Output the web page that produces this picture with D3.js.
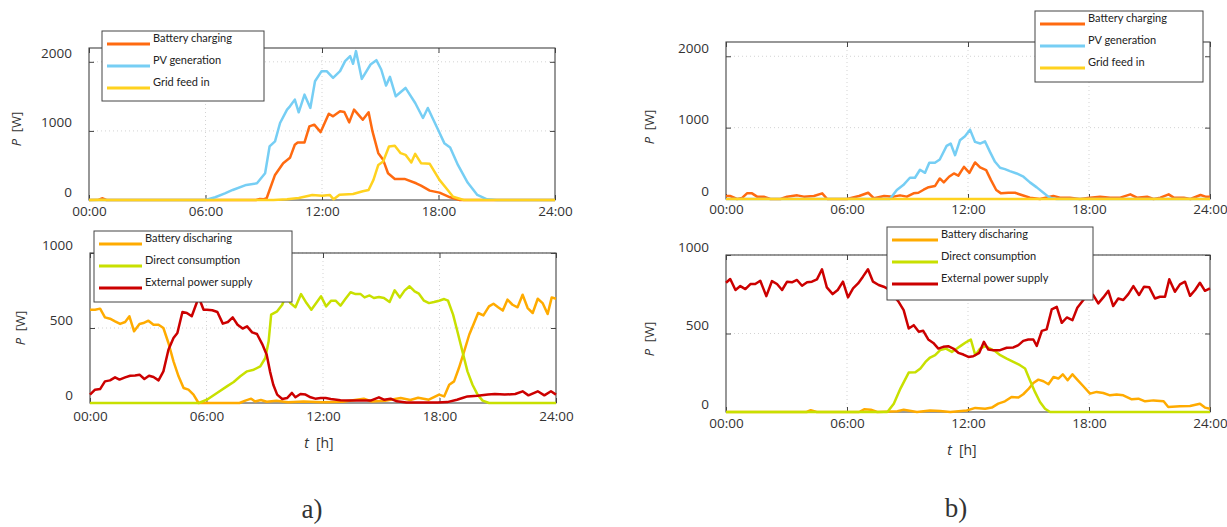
<!DOCTYPE html>
<html>
<head>
<style>
  body { margin: 0; background: #fff; }
  svg text { font-family: "Open Sans", sans-serif; fill: #333; }
  .tick text { font-size: 13.5px; }
  .legend text { font-family: Lato, sans-serif; font-size: 11px; fill: #222; }
  .caption { font-family: "Liberation Serif", serif; font-size: 27px; }
</style>
<script src="https://d3js.org/d3.v7.min.js"></script>
</head>
<body>
<svg width="1227" height="527"></svg>
<script>
// tick labels
var hourTicks = [0, 6, 12, 18, 24];
var hourLabels = ["00:00", "06:00", "12:00", "18:00", "24:00"];
var genTicks = [0, 1000, 2000];
var useTicks = [0, 500, 1000];
var genNames = ["Battery charging", "PV generation", "Grid feed in"];
var useNames = ["Battery discharing", "Direct consumption", "External power supply"];
var genColors = ["#ff6a10", "#76cef4", "#ffd21f"];
var useColors = ["#ffab00", "#c8e000", "#cc0000"];

// a) [hour, W]
var aCharge = [[0,0],[0.5,5],[0.7,25],[0.9,0],[8.6,0],[8.8,15],[9.0,12],[9.15,25],[9.3,145],[9.58,363],[10.0,533],[10.35,610],[10.6,800],[10.75,833],[11.1,833],[11.35,1065],[11.6,1090],[11.93,983],[12.35,1249],[12.57,1211],[12.93,1283],[13.15,1274],[13.4,1124],[13.65,1308],[13.95,1211],[14.1,1162],[14.4,1269],[14.6,993],[14.9,678],[15.15,581],[15.4,387],[15.75,305],[16.25,305],[16.85,242],[17.1,208],[17.55,136],[18.05,107],[18.6,39],[19.1,0],[24,0]];
var aPv = [[0,0],[6.0,0],[6.5,40],[7.0,95],[7.4,145],[8.1,218],[8.65,242],[9.07,387],[9.3,775],[9.58,848],[9.84,1114],[10.2,1308],[10.35,1356],[10.6,1453],[10.8,1269],[11.1,1525],[11.4,1332],[11.64,1719],[11.98,1865],[12.24,1865],[12.57,1768],[12.93,1865],[13.19,2010],[13.45,2083],[13.6,1971],[13.75,2155],[14.05,1753],[14.5,1961],[14.8,2024],[15.05,1889],[15.3,1656],[15.5,1782],[15.8,1501],[16.3,1622],[16.8,1404],[17.2,1187],[17.45,1332],[17.9,1065],[18.3,823],[18.6,760],[19.0,508],[19.5,252],[20.0,73],[20.5,10],[21,0],[24,0]];
var aFeed = [[0,0],[0.5,5],[1,0],[9.5,0],[10.2,10],[10.8,30],[11.5,73],[12.0,63],[12.4,73],[12.6,10],[12.9,77],[13.6,87],[14.1,126],[14.4,145],[14.65,291],[14.9,508],[15.15,557],[15.45,775],[15.75,785],[16.05,678],[16.3,654],[16.6,542],[16.8,668],[17.1,533],[17.55,523],[18.05,291],[18.4,170],[18.75,48],[19.3,0],[24,0]];
var aDischarge = [[0,622],[0.26,622],[0.52,629],[0.77,571],[1.03,562],[1.29,544],[1.55,527],[1.81,540],[2.03,578],[2.27,478],[2.55,527],[2.75,533],[3.01,549],[3.27,522],[3.53,522],[3.78,500],[4.04,400],[4.3,278],[4.56,178],[4.82,100],[5.07,89],[5.33,56],[5.59,0],[7.7,0],[8.0,16],[8.3,29],[8.5,10],[8.8,20],[9.1,8],[9.6,15],[10.2,5],[11,10],[12,5],[13,8],[14.1,29],[14.5,10],[15.2,15],[16.0,33],[16.5,20],[16.9,35],[17.45,22],[17.98,56],[18.24,44],[18.5,122],[18.75,144],[19.0,233],[19.27,344],[19.53,455],[19.78,533],[19.99,600],[20.26,584],[20.55,644],[20.78,662],[21.02,638],[21.26,616],[21.5,689],[21.76,655],[22.02,638],[22.28,722],[22.54,633],[22.8,600],[23.06,695],[23.31,666],[23.57,593],[23.78,704],[24,695]];
var aDirect = [[0,0],[5.6,0],[6.02,22],[6.54,67],[7.05,111],[7.4,140],[7.74,178],[8.09,211],[8.43,222],[8.77,244],[9.03,300],[9.2,411],[9.33,589],[9.64,611],[9.9,655],[10.1,722],[10.32,666],[10.58,638],[10.87,726],[11.15,666],[11.4,622],[11.9,711],[12.16,644],[12.42,682],[12.65,682],[12.9,649],[13.16,695],[13.42,738],[13.68,726],[13.94,726],[14.14,704],[14.4,717],[14.62,700],[14.88,707],[15.14,700],[15.43,673],[15.69,751],[15.96,704],[16.2,749],[16.46,778],[16.72,744],[16.94,729],[17.2,682],[17.46,666],[17.72,673],[17.98,682],[18.24,693],[18.44,682],[18.7,589],[18.92,478],[19.18,344],[19.44,211],[19.7,122],[19.96,56],[20.22,16],[20.55,0],[24,0]];
var aExternal = [[0,56],[0.26,89],[0.52,93],[0.77,144],[1.03,151],[1.29,171],[1.52,156],[1.81,171],[2.07,182],[2.32,184],[2.55,189],[2.8,160],[3.04,182],[3.27,173],[3.53,151],[3.78,211],[4.04,355],[4.3,433],[4.5,467],[4.76,607],[4.99,600],[5.24,578],[5.6,705],[5.85,622],[6.02,622],[6.3,618],[6.56,607],[6.84,529],[7.1,540],[7.35,571],[7.6,522],[7.86,496],[8.09,511],[8.35,471],[8.6,460],[8.87,393],[9.1,322],[9.27,211],[9.44,122],[9.64,56],[9.9,27],[10.15,33],[10.4,67],[10.58,38],[10.84,60],[11.1,56],[11.36,38],[11.6,29],[11.88,33],[12.14,33],[12.4,27],[12.9,18],[13.4,16],[14.45,16],[14.88,38],[15.14,22],[15.48,29],[15.8,11],[16.3,4],[17.2,4],[17.9,4],[18.4,6],[18.9,22],[19.18,33],[19.44,44],[19.96,49],[20.5,56],[20.85,60],[21.36,56],[21.9,60],[22.28,78],[22.58,51],[23.06,78],[23.4,51],[23.74,78],[24,56]];

// b) [hour, W]
var bCharge = [[0,42],[0.2,42],[0.55,0],[0.8,15],[1.04,79],[1.29,79],[1.54,33],[1.87,33],[2.2,0],[2.7,0],[3.03,33],[3.53,51],[3.86,33],[4.36,42],[4.77,79],[5.02,0],[6.0,0],[6.6,42],[7.05,88],[7.34,10],[7.84,42],[8.3,33],[8.63,51],[8.97,33],[9.3,79],[9.54,88],[9.8,130],[10.05,165],[10.36,181],[10.6,288],[10.8,233],[11.06,312],[11.3,358],[11.52,326],[11.8,451],[12.07,367],[12.35,512],[12.6,442],[12.9,405],[13.14,265],[13.4,126],[13.64,79],[14.0,88],[14.33,88],[14.66,56],[15.07,19],[15.57,0],[16.23,42],[16.56,19],[17.05,19],[17.55,0],[18.05,19],[18.55,33],[19.05,19],[19.55,19],[20.05,65],[20.38,19],[20.88,33],[21.2,0],[21.54,19],[21.95,65],[22.2,19],[22.7,19],[23.03,0],[23.53,56],[23.78,33],[24,33]];
var bPv = [[0,0],[8.13,0],[8.47,126],[8.79,195],[9.12,298],[9.37,298],[9.62,410],[9.87,367],[10.08,507],[10.36,507],[10.6,553],[10.94,744],[11.14,777],[11.36,614],[11.6,823],[11.85,879],[12.1,972],[12.35,800],[12.6,777],[12.84,809],[13.09,660],[13.34,521],[13.59,437],[13.83,419],[14.08,391],[14.41,358],[14.75,312],[15.07,233],[15.41,163],[15.74,88],[15.98,33],[16.15,10],[16.4,0],[24,0]];
var bFeed = [[0,0],[24,0]];
var bDischarge = [[0,0],[4.0,0],[4.2,11],[4.5,0],[6.6,0],[6.85,17],[7.18,15],[7.5,0],[8.5,5],[8.81,15],[9.47,0],[10.12,10],[10.62,6],[11.12,0],[11.94,10],[12.36,26],[12.85,21],[13.18,28],[13.5,53],[13.83,68],[14.16,96],[14.5,92],[14.74,113],[14.99,145],[15.24,185],[15.49,206],[15.74,196],[15.99,177],[16.24,223],[16.48,213],[16.7,240],[16.94,202],[17.18,240],[17.45,202],[17.72,164],[18.05,117],[18.38,128],[18.71,121],[19.04,106],[19.37,111],[19.7,106],[20.12,81],[20.45,85],[20.78,68],[21.2,74],[21.7,68],[21.93,32],[22.51,36],[23.01,38],[23.5,53],[23.75,28],[24,21]];
var bDirect = [[0,0],[8.0,0],[8.32,53],[8.65,149],[9.06,251],[9.39,253],[9.64,277],[9.89,319],[10.12,347],[10.37,362],[10.62,394],[10.91,404],[11.2,383],[11.45,404],[11.69,426],[11.94,447],[12.14,462],[12.36,362],[12.6,404],[12.85,419],[13.1,404],[13.35,387],[13.6,362],[13.92,340],[14.25,319],[14.58,298],[14.83,277],[15.07,202],[15.32,128],[15.57,64],[15.82,21],[16.07,0],[24,0]];
var bExternal = [[0,823],[0.21,847],[0.47,777],[0.71,802],[0.96,783],[1.21,815],[1.45,815],[1.7,836],[2.0,738],[2.28,834],[2.53,815],[2.78,777],[3.03,830],[3.27,826],[3.52,841],[3.77,804],[4.02,826],[4.26,830],[4.51,845],[4.76,909],[5.0,794],[5.29,751],[5.54,777],[5.8,830],[6.05,730],[6.3,787],[6.55,819],[6.79,862],[7.04,909],[7.29,830],[7.57,809],[7.82,798],[8.07,781],[8.32,738],[8.56,702],[8.81,649],[9.06,532],[9.31,553],[9.56,511],[9.78,517],[10.03,462],[10.28,440],[10.53,404],[10.77,415],[11.02,419],[11.27,404],[11.52,377],[11.77,366],[12.02,351],[12.26,355],[12.56,377],[12.79,447],[13.01,398],[13.26,394],[13.59,394],[13.92,409],[14.25,411],[14.5,426],[14.74,453],[14.99,462],[15.24,462],[15.41,421],[15.66,517],[15.9,526],[16.15,653],[16.4,670],[16.65,568],[16.9,602],[17.18,585],[17.42,664],[17.72,713],[17.97,755],[18.21,745],[18.46,692],[18.71,730],[18.96,772],[19.2,675],[19.45,723],[19.7,713],[19.95,751],[20.2,802],[20.48,745],[20.73,798],[20.99,794],[21.27,723],[21.52,734],[21.77,734],[21.98,845],[22.26,766],[22.51,813],[22.76,830],[23.01,740],[23.26,777],[23.5,823],[23.75,772],[24,787]];

var svg = d3.select("svg");

var panels = [
  {x0: 89, x1: 555, y0: 48, y1: 200, ymax: 2200, ticks: genTicks, xPad: 6,
   series: [aCharge, aPv, aFeed], names: genNames, colors: genColors,
   legend: {x: 102, y: 31, w: 162, h: 70, lw: 43}, ylab: [16, 129]},
  {x0: 90, x1: 556, y0: 253, y1: 403, ymax: 1000, ticks: useTicks, xPad: 8,
   series: [aDischarge, aDirect, aExternal], names: useNames, colors: useColors,
   legend: {x: 94, y: 231, w: 198, h: 71, lw: 43}, ylab: [20, 328], tlab: [319, 443]},
  {x0: 726, x1: 1210, y0: 42, y1: 199, ymax: 2200, ticks: genTicks, xPad: 5,
   series: [bCharge, bPv, bFeed], names: genNames, colors: genColors,
   legend: {x: 1035, y: 11, w: 168, h: 71, lw: 45}, ylab: [649, 127]},
  {x0: 726, x1: 1210, y0: 255, y1: 412, ymax: 1000, ticks: useTicks, xPad: 6,
   series: [bDischarge, bDirect, bExternal], names: useNames, colors: useColors,
   legend: {x: 887, y: 227, w: 206, h: 73, lw: 46}, ylab: [649, 339], tlab: [962, 450]}
];

panels.forEach(drawPanel);

function drawPanel(p) {
  var g = svg.append("g");
  var x = d3.scaleLinear().domain([0, 24]).range([p.x0, p.x1]);
  var y = d3.scaleLinear().domain([0, p.ymax]).range([p.y1, p.y0]);

  // dotted grid
  g.append("g").selectAll("line").data(hourTicks.slice(1, -1)).join("line")
    .attr("x1", d => x(d)).attr("x2", d => x(d)).attr("y1", p.y0).attr("y2", p.y1);
  g.append("g").selectAll("line").data(p.ticks.slice(1)).join("line")
    .attr("x1", p.x0).attr("x2", p.x1).attr("y1", d => y(d)).attr("y2", d => y(d));
  g.selectAll("line").attr("stroke", "#c8c8c8").attr("stroke-width", 0.8).attr("stroke-dasharray", "1,3");

  // axes, ticks pointing inwards
  var left = g.append("g").attr("transform", "translate(" + p.x0 + ",0)")
    .call(d3.axisLeft(y).tickValues(p.ticks).tickSize(-5).tickPadding(17).tickFormat(d3.format("d")));
  left.selectAll("text").attr("dy", -4);
  g.append("g").attr("transform", "translate(" + p.x1 + ",0)")
    .call(d3.axisRight(y).tickValues(p.ticks).tickSize(-5).tickFormat(""));
  g.append("g").attr("transform", "translate(0," + p.y1 + ")")
    .call(d3.axisBottom(x).tickValues(hourTicks).tickSize(-5).tickPadding(p.xPad)
      .tickFormat((d, i) => hourLabels[i]));
  g.append("g").attr("transform", "translate(0," + p.y0 + ")")
    .call(d3.axisTop(x).tickValues(hourTicks).tickSize(-5).tickFormat(""));
  g.selectAll(".domain").remove();
  g.selectAll(".tick line").attr("stroke", "#444");
  g.selectAll(".tick text").attr("fill", "#333");

  g.append("rect").attr("x", p.x0).attr("y", p.y0)
    .attr("width", p.x1 - p.x0).attr("height", p.y1 - p.y0)
    .attr("fill", "none").attr("stroke", "#444").attr("stroke-width", 1.1);

  var line = d3.line().x(d => x(d[0])).y(d => y(d[1]));
  p.series.forEach(function(s, i) {
    g.append("path").datum(s).attr("d", line)
      .attr("fill", "none").attr("stroke", p.colors[i])
      .attr("stroke-width", 2.5).attr("stroke-linejoin", "round");
  });

  // legend box
  var L = p.legend;
  var lg = g.append("g").attr("class", "legend");
  lg.append("rect").attr("x", L.x).attr("y", L.y).attr("width", L.w).attr("height", L.h)
    .attr("fill", "#fff").attr("stroke", "#444").attr("stroke-width", 1);
  p.names.forEach(function(n, i) {
    var ly = L.y + 13 + i * 22;
    lg.append("line").attr("x1", L.x + 5).attr("x2", L.x + 5 + L.lw)
      .attr("y1", ly).attr("y2", ly).attr("stroke", p.colors[i]).attr("stroke-width", 2.8);
    lg.append("text").attr("x", L.x + 8 + L.lw).attr("y", ly - 2).text(n);
  });

  // axis titles
  var yl = g.append("text").attr("transform", "translate(" + p.ylab[0] + "," + p.ylab[1] + ") rotate(-90)")
    .attr("text-anchor", "middle").attr("dy", "0.35em").style("font-size", "13px");
  yl.append("tspan").style("font-style", "italic").text("P");
  yl.append("tspan").text("\u2002[W]");

  if (p.tlab) {
    var tl = g.append("text").attr("x", p.tlab[0]).attr("y", p.tlab[1])
      .attr("text-anchor", "middle").attr("dy", "0.35em").style("font-size", "14px");
    tl.append("tspan").style("font-style", "italic").text("t");
    tl.append("tspan").text("\u2002[h]");
  }
}

svg.append("text").attr("class", "caption").attr("x", 312).attr("y", 518)
  .attr("text-anchor", "middle").text("a)");
svg.append("text").attr("class", "caption").attr("x", 956).attr("y", 517)
  .attr("text-anchor", "middle").text("b)");
</script>
</body>
</html>
